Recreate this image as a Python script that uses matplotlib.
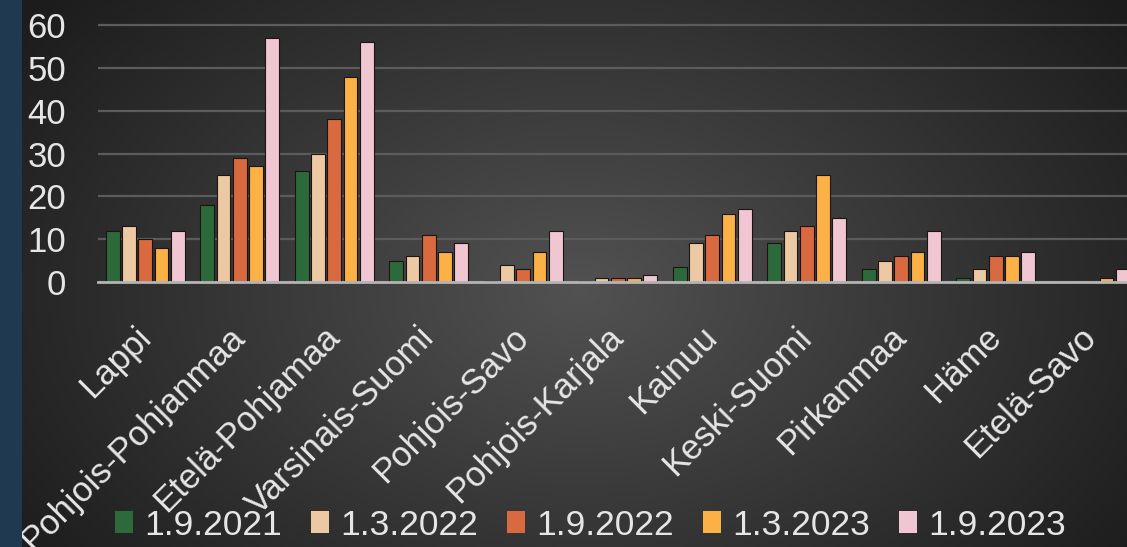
import numpy as np
import matplotlib
matplotlib.use("Agg")
from matplotlib import pyplot as plt
from matplotlib.patches import Patch, Rectangle

plt.rcParams['font.family'] = ['Liberation Sans', 'DejaVu Sans']

regions = ["Lappi", "Pohjois-Pohjanmaa", "Etelä-Pohjamaa", "Varsinais-Suomi",
           "Pohjois-Savo", "Pohjois-Karjala", "Kainuu", "Keski-Suomi",
           "Pirkanmaa", "Häme", "Etelä-Savo"]
dates = ["1.9.2021", "1.3.2022", "1.9.2022", "1.3.2023", "1.9.2023"]

v_2021_09 = [12, 18, 26, 5, 0.3, 0.3, 3.5, 9, 3, 1, 0]
v_2022_03 = [13, 25, 30, 6, 4, 1, 9, 12, 5, 3, 0]
v_2022_09 = [10, 29, 38, 11, 3, 1, 11, 13, 6, 6, 0]
v_2023_03 = [8, 27, 48, 7, 7, 1, 16, 25, 7, 6, 1]
v_2023_09 = [12, 57, 56, 9, 12, 1.7, 17, 15, 12, 7, 3]
series = [v_2021_09, v_2022_03, v_2022_09, v_2023_03, v_2023_09]

colors = ["#2c6a3c", "#ecc9a3", "#d9693f", "#fbb145", "#f0c6d2"]
text_col = "#e6e6e6"

fig = plt.figure(figsize=(11.27, 5.47), dpi=100)

# taustan radiaalinen liukuväri
bg = fig.add_axes([0, 0, 1, 1], zorder=-10)
yy, xx = np.mgrid[0:547, 0:1127]
r = np.sqrt(((xx - 580) / 620.0) ** 2 + ((yy - 290) / 420.0) ** 2)
shade = np.clip(0.32 - 0.19 * r, 0.11, 0.32)
img = np.dstack([shade, shade, shade])
bg.imshow(img, aspect='auto', extent=[0, 1, 0, 1])
bg.axis('off')

# sininen reunapalkki vasemmalla, tekstien päällä
fig.add_artist(Rectangle((0, 0), 22 / 1127, 1, transform=fig.transFigure,
                         facecolor="#1f3a50", edgecolor='none', zorder=20))

ax = fig.add_axes([98 / 1127, 265 / 547, 1039.5 / 1127, 299.6 / 547])
ax.patch.set_alpha(0)

x = np.arange(len(regions))
step = 0.172
for i, vals in enumerate(series):
    ax.bar(x + (i - 2) * step, vals, width=0.148, color=colors[i],
           edgecolor="#1c1410", linewidth=0.8, zorder=3)

ax.set_xlim(-0.5, len(regions) - 0.5)
ax.set_ylim(0, 70)
ax.set_yticks(range(0, 70, 10))
ax.set_yticklabels([str(v) for v in range(0, 70, 10)])
ax.yaxis.grid(True, color="#5c5c5c", linewidth=1.6, zorder=0)
ax.set_axisbelow(True)
for s in ['top', 'right', 'left']:
    ax.spines[s].set_visible(False)
ax.spines['bottom'].set_color("#b4b4b4")
ax.spines['bottom'].set_linewidth(2)
ax.spines['bottom'].set_zorder(4)
ax.tick_params(axis='y', length=0, pad=23, labelsize=25, labelcolor=text_col)
ax.tick_params(axis='x', length=0, pad=36, labelsize=25, labelcolor=text_col)
ax.set_xticks(x)
ax.set_xticklabels(regions, rotation=45, ha='right', va='center',
                   rotation_mode='anchor')

handles = [Patch(facecolor=c, edgecolor='none') for c in colors]
fig.legend(handles, dates, loc='center', bbox_to_anchor=(0.524, 0.04),
           ncol=5, frameon=False, fontsize=25.5, labelcolor=text_col,
           handlelength=0.5, handleheight=0.55, handletextpad=0.32,
           columnspacing=0.82, borderpad=0)

fig.savefig("out.png", dpi=100)
